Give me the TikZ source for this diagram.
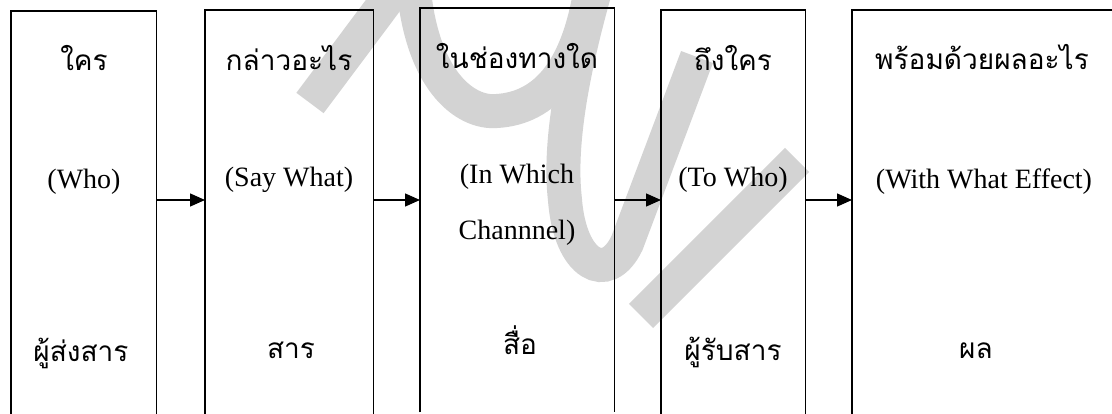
\documentclass[tikz,border=0pt]{standalone}
\usepackage{fontspec}
\setmainfont{Liberation Serif}
\newfontfamily\thaifont[Script=Thai]{Loma}
\usetikzlibrary{arrows.meta}
\definecolor{wmgray}{RGB}{211,211,211}
\begin{document}
\begin{tikzpicture}[x=1pt,y=-1pt,
  boxframe/.style={line width=1.5pt},
  conn/.style={line width=1.4pt,-{Triangle[length=15pt,width=13pt]}},
  en/.style={font=\fontsize{28}{30}\selectfont,anchor=base,inner sep=0pt},
  th/.style={font=\thaifont\fontsize{28}{30}\selectfont,anchor=base,inner sep=0pt},
  wm/.style={line width=34pt,draw=wmgray},
  boxarea/.style={minimum height=404pt,inner sep=0pt,anchor=north west}]
\useasboundingbox (0,0) rectangle (1112,414);
\begin{scope}
\clip (0,0) rectangle (1112,414);
% watermark
\draw[wm] (310,103) -- (402,-20);
\draw[wm] (413,-20) .. controls (420,80) and (465,114) .. (497,111)
  .. controls (545,108) and (580,70) .. (592,-20);
\draw[wm] (598,-20) .. controls (575,60) and (558,140) .. (565,200)
  .. controls (570,265) and (607,285) .. (627,243) -- (697,57);
\draw[wm] (641,316) -- (797,160);
% boxes
\node[boxarea,minimum width=145pt] (b1) at (11,11) {};
\node[boxarea,minimum width=168pt] (b2) at (205,10) {};
\node[boxarea,minimum width=194pt] (b3) at (420,8) {};
\node[boxarea,minimum width=144pt] (b4) at (661,10) {};
\node[boxarea,minimum width=280pt] (b5) at (852,10) {};
\foreach \b in {b1,b2,b3,b4,b5}
  \draw[boxframe] (\b.south west) -- (\b.north west) -- (\b.north east) -- (\b.south east);
\end{scope}
\coordinate (ay) at (0,200);
\draw[conn] (b1.east |- ay) -- (b2.west |- ay);
\draw[conn] (b2.east |- ay) -- (b3.west |- ay);
\draw[conn] (b3.east |- ay) -- (b4.west |- ay);
\draw[conn] (b4.east |- ay) -- (b5.west |- ay);
% texts
\node[th] (t1a) at (84,71) {ใคร};
\node[en] (t1b) at (84,189) {(Who)};
\node[th] (t1c) at (81,362) {ผู้ส่งสาร};
\node[th] (t2a) at (289,71) {กล่าวอะไร};
\node[en] (t2b) at (289,187) {(Say What)};
\node[th] (t2c) at (291,358) {สาร};
\node[th] (t3a) at (517,69) {ในช่องทางใด};
\node[en] (t3b) at (517,184) {(In Which};
\node[en] (t3c) at (517,240) {Channnel)};
\node[th] (t3d) at (520,354) {สื่อ};
\node[th] (t4a) at (733,71) {ถึงใคร};
\node[en] (t4b) at (733,187) {(To Who)};
\node[th] (t4c) at (733,360) {ผู้รับสาร};
\node[th] (t5a) at (982,70) {พร้อมด้วยผลอะไร};
\node[en] (t5b) at (984,189) {(With What Effect)};
\node[th] (t5c) at (976,358) {ผล};
\end{tikzpicture}
\end{document}
